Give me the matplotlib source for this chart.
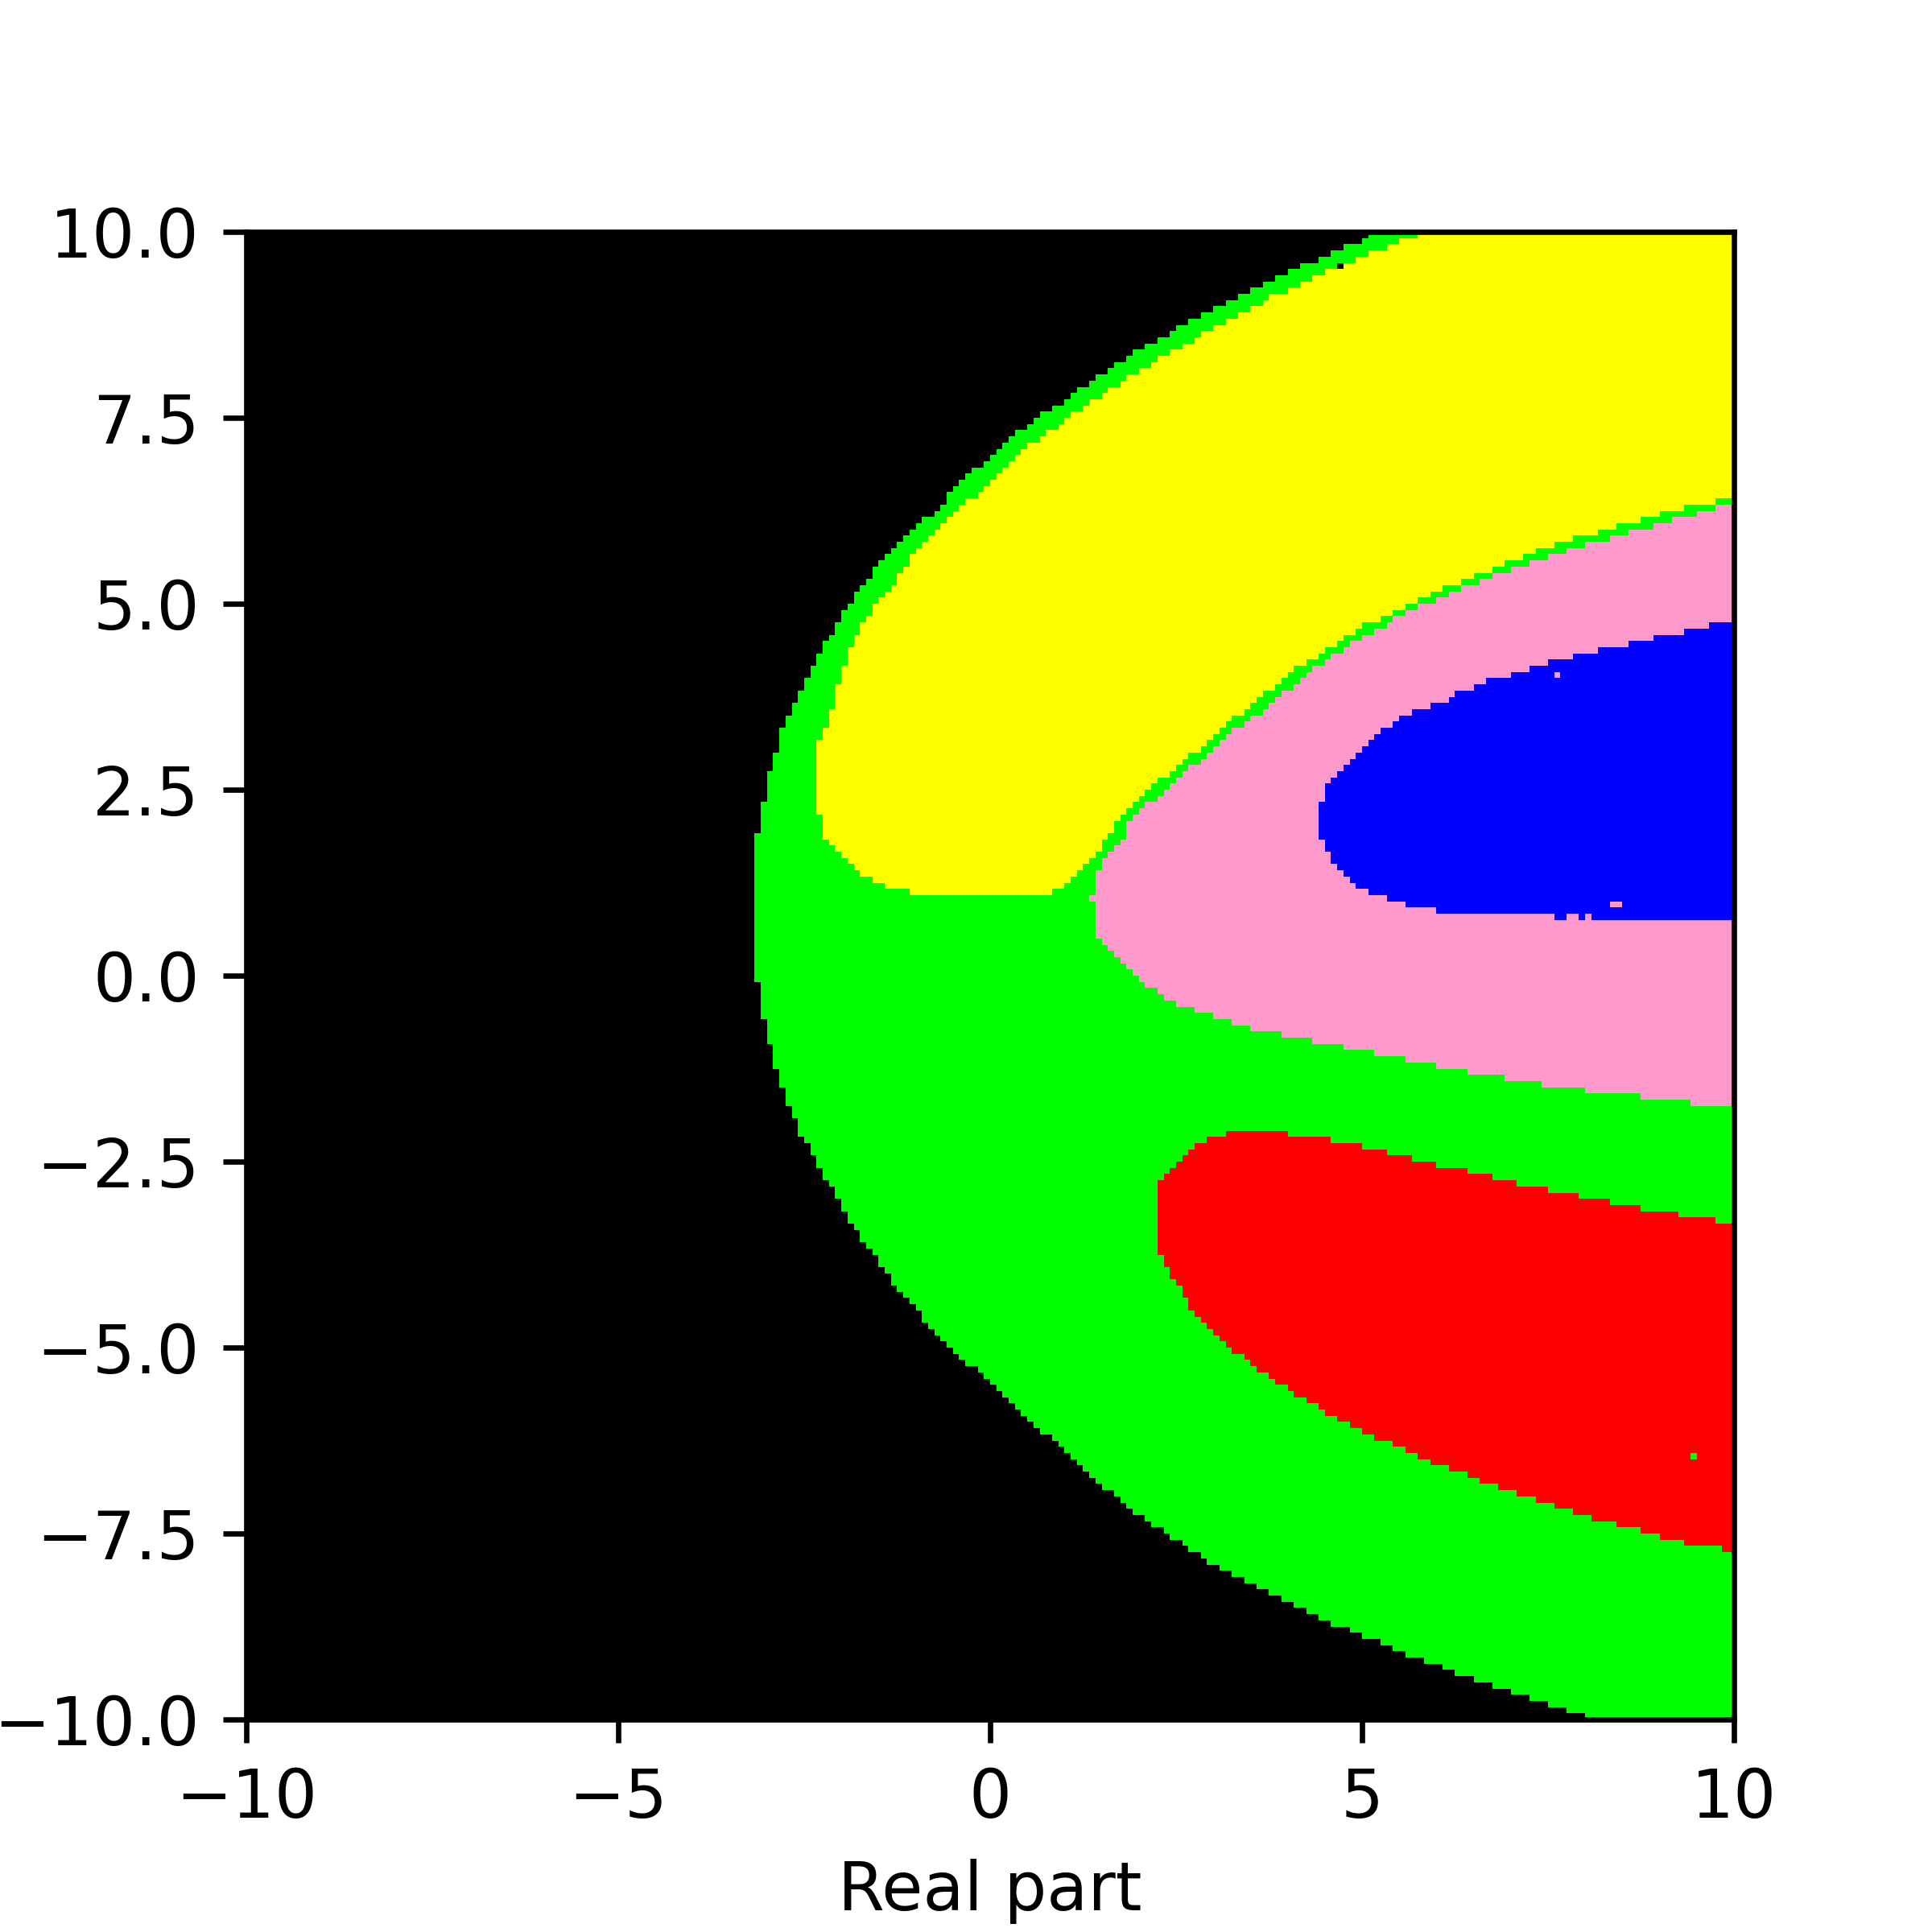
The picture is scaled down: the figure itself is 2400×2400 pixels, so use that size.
import numpy as np
import matplotlib
matplotlib.use("Agg")

import matplotlib.pyplot as plt
from matplotlib.colors import ListedColormap
from matplotlib.path import Path

# ------------------------------------------------------------
# DATA
# ------------------------------------------------------------
n_cells = 240
plane_extent = (-10, 10, -10, 10)

class_colors = ["#000000", "#00ff00", "#ffff00", "#ff99cc", "#0000ff", "#ff0000"]

x_ticks = [-10, -5, 0, 5, 10]
y_ticks = [-10, -7.5, -5, -2.5, 0, 2.5, 5, 7.5, 10]

# outline of the green area (everything left of it stays black)
green_edge = [(5.18, 10.5), (5.18, 10.0), (5.01, 9.89), (4.59, 9.73), (4.26, 9.56),
              (4.02, 9.48), (3.84, 9.39), (3.51, 9.23), (3.18, 9.06), (2.85, 8.89),
              (2.26, 8.56), (1.84, 8.31), (1.44, 8.06), (1.01, 7.73), (0.60, 7.48),
              (0.27, 7.23), (-0.07, 6.89), (-0.41, 6.65), (-0.73, 6.23), (-0.98, 6.07),
              (-1.23, 5.82), (-1.40, 5.65), (-1.65, 5.32), (-1.90, 4.99), (-2.14, 4.57),
              (-2.32, 4.32), (-2.48, 3.99), (-2.64, 3.65), (-2.82, 3.24), (-2.90, 2.90),
              (-2.98, 2.65), (-3.06, 2.23), (-3.15, 1.74), (-3.15, 0.08), (-3.06, -0.50),
              (-2.98, -0.84), (-2.90, -1.17), (-2.82, -1.42), (-2.73, -1.67), (-2.57, -2.09),
              (-2.48, -2.25), (-2.39, -2.42), (-2.32, -2.58), (-2.14, -2.83), (-1.98, -3.17),
              (-1.81, -3.42), (-1.56, -3.75), (-1.40, -4.00), (-1.06, -4.41), (-0.57, -4.99),
              (-0.24, -5.25), (0.02, -5.50), (0.27, -5.75), (0.51, -6.00), (0.76, -6.16),
              (0.93, -6.31), (1.85, -7.16), (2.26, -7.41), (2.60, -7.66), (3.01, -7.91),
              (3.51, -8.16), (4.01, -8.41), (4.51, -8.66), (5.10, -8.91), (5.68, -9.15),
              (6.34, -9.40), (7.09, -9.65), (7.84, -9.90), (8.18, -10.0), (8.18, -10.5),
              (10.5, -10.5), (10.5, 10.5)]

yellow_edge = [(5.76, 10.5), (5.76, 9.95), (5.59, 9.90), (5.35, 9.82), (5.17, 9.73),
               (4.92, 9.64), (4.59, 9.48), (4.17, 9.31), (3.84, 9.15), (3.51, 8.98),
               (3.18, 8.81), (2.92, 8.65), (2.59, 8.48), (2.19, 8.23), (1.77, 7.98),
               (1.51, 7.81), (1.26, 7.64), (0.93, 7.40), (0.68, 7.24), (0.35, 6.98),
               (0.10, 6.73), (-0.15, 6.48), (-0.41, 6.31), (-0.57, 6.15), (-0.90, 5.82),
               (-1.15, 5.49), (-1.32, 5.24), (-1.49, 5.07), (-1.65, 4.83), (-1.81, 4.57),
               (-1.90, 4.32), (-2.07, 3.82), (-2.23, 3.24), (-2.32, 3.10), (-2.32, 2.23),
               (-2.23, 1.90), (-2.14, 1.74), (-1.98, 1.58), (-1.81, 1.41), (-1.65, 1.33),
               (-1.49, 1.24), (-1.23, 1.16), (-0.81, 1.08), (0.76, 1.08), (1.02, 1.24),
               (1.18, 1.33), (1.26, 1.50), (1.44, 1.66), (1.60, 1.91), (1.77, 2.12),
               (1.93, 2.34), (2.09, 2.50), (2.35, 2.67), (2.52, 2.83), (2.76, 3.00),
               (2.92, 3.16), (3.09, 3.33), (3.34, 3.50), (3.51, 3.66), (3.76, 3.83),
               (3.93, 3.99), (4.17, 4.16), (4.42, 4.32), (4.68, 4.49), (4.92, 4.65),
               (5.17, 4.77), (5.51, 4.94), (5.84, 5.10), (6.25, 5.27), (6.67, 5.43),
               (7.08, 5.60), (7.34, 5.71), (7.59, 5.79), (7.84, 5.875), (8.17, 5.96),
               (8.42, 6.04), (8.74, 6.125), (9.00, 6.21), (9.33, 6.29), (9.75, 6.375),
               (10.5, 6.42), (10.5, 10.5)]

pink_edge = [(10.5, 6.34), (9.83, 6.31), (9.50, 6.21), (9.18, 6.125), (8.92, 6.04),
             (8.58, 5.96), (8.33, 5.875), (8.00, 5.79), (7.75, 5.71), (7.25, 5.54),
             (7.00, 5.46), (6.75, 5.37), (6.33, 5.21), (6.00, 5.04), (5.76, 4.96),
             (5.42, 4.80), (5.17, 4.62), (4.84, 4.45), (4.59, 4.29), (4.34, 4.12),
             (4.18, 3.96), (3.93, 3.79), (3.75, 3.62), (3.51, 3.46), (3.26, 3.29),
             (3.10, 3.13), (2.93, 2.97), (2.68, 2.78), (2.43, 2.54), (2.27, 2.37),
             (2.09, 2.29), (1.93, 2.12), (1.85, 2.04), (1.85, 1.90),
             (1.68, 1.74), (1.52, 1.58), (1.44, 1.41), (1.44, 1.08), (1.35, 1.08),
             (1.35, 0.99), (1.44, 0.99), (1.44, 0.58), (1.52, 0.41), (1.68, 0.25),
             (1.85, 0.08), (2.01, -0.09), (2.19, -0.17), (2.43, -0.33), (2.60, -0.42),
             (2.85, -0.50), (3.09, -0.58), (3.34, -0.67), (3.67, -0.75), (4.09, -0.83),
             (4.51, -0.91), (4.92, -1.00), (5.34, -1.08), (5.76, -1.17), (6.25, -1.26),
             (6.67, -1.34), (7.17, -1.42), (7.75, -1.51), (8.42, -1.59), (9.08, -1.67),
             (9.76, -1.75), (10.5, -1.75)]

blue_edge = [(10.5, 4.74), (9.83, 4.74), (9.42, 4.65), (9.01, 4.57), (8.67, 4.48),
             (8.25, 4.40), (7.92, 4.32), (7.59, 4.24), (7.34, 4.15), (7.08, 4.07),
             (6.76, 3.99), (6.59, 3.91), (6.34, 3.82), (6.18, 3.73), (6.00, 3.65),
             (5.76, 3.57), (5.59, 3.49), (5.42, 3.40), (5.35, 3.32), (5.17, 3.24),
             (5.09, 3.16), (5.01, 3.07), (4.92, 2.99), (4.84, 2.91), (4.76, 2.82),
             (4.67, 2.74), (4.59, 2.66), (4.51, 2.49), (4.42, 2.25), (4.42, 1.91),
             (4.51, 1.66), (4.59, 1.58), (4.68, 1.42), (4.75, 1.33), (4.91, 1.24),
             (5.00, 1.17), (5.16, 1.08), (5.50, 0.99), (5.75, 0.92), (6.25, 0.83),
             (7.59, 0.83), (7.59, 0.75), (10.5, 0.75)]

red_edge = [(2.26, -2.84), (2.35, -2.67), (2.43, -2.59), (2.52, -2.50), (2.60, -2.42),
            (2.67, -2.34), (2.76, -2.25), (3.01, -2.17), (3.26, -2.09), (4.09, -2.13),
            (4.59, -2.21), (5.01, -2.30), (5.34, -2.38), (5.68, -2.46), (6.00, -2.55),
            (6.42, -2.63), (6.76, -2.71), (7.09, -2.80), (7.50, -2.88), (7.92, -2.96),
            (8.34, -3.05), (8.74, -3.13), (9.26, -3.21), (9.76, -3.29), (10.5, -3.33),
            (10.5, -7.74), (9.67, -7.70), (9.33, -7.62), (9.01, -7.54), (8.68, -7.45),
            (8.42, -7.37), (8.09, -7.29), (7.84, -7.20), (7.59, -7.12), (7.34, -7.04),
            (7.09, -6.95), (6.84, -6.87), (6.58, -6.79), (6.42, -6.71), (6.18, -6.62),
            (5.93, -6.54), (5.76, -6.45), (5.59, -6.37), (5.35, -6.28), (5.18, -6.20),
            (5.01, -6.12), (4.85, -6.03), (4.68, -5.95), (4.51, -5.87), (4.43, -5.79),
            (4.27, -5.70), (4.10, -5.62), (4.01, -5.54), (3.84, -5.45), (3.76, -5.37),
            (3.60, -5.29), (3.51, -5.20), (3.43, -5.12), (3.26, -5.04), (3.18, -4.95),
            (3.10, -4.87), (3.01, -4.79), (2.92, -4.70), (2.85, -4.62), (2.76, -4.54),
            (2.67, -4.42), (2.60, -4.29), (2.52, -4.17), (2.43, -4.00), (2.35, -3.83),
            (2.26, -3.75)]

# single stray cells
speck_x = [4.71, 7.63, 9.46, 7.79, 7.87, 8.04, 8.37, 8.45]
speck_y = [9.54, 4.04, -6.45, 0.79, 0.79, 0.79, 0.96, 0.96]
speck_class = [0, 3, 1, 3, 3, 3, 3, 3]

# ------------------------------------------------------------
# BUILD THE CLASS GRID
# ------------------------------------------------------------
edges = np.linspace(-10, 10, n_cells + 1)
centers = (edges[:-1] + edges[1:]) / 2
xx, yy = np.meshgrid(centers, centers)
points = np.column_stack([xx.ravel(), yy.ravel()])

labels = np.zeros(xx.shape, dtype=int)
for code, outline in [(1, green_edge), (2, yellow_edge), (3, pink_edge),
                      (4, blue_edge), (5, red_edge)]:
    inside = Path(np.array(outline)).contains_points(points).reshape(xx.shape)
    labels[inside] = code

for sx, sy, sc in zip(speck_x, speck_y, speck_class):
    col = int(np.floor((sx + 10) / 20 * n_cells))
    row = int(np.floor((sy + 10) / 20 * n_cells))
    labels[row, col] = sc

# ------------------------------------------------------------
# PLOT
# ------------------------------------------------------------
fig, ax = plt.subplots(figsize=(4, 4))
ax.imshow(labels, origin="lower", extent=plane_extent,
          cmap=ListedColormap(class_colors), vmin=-0.5, vmax=5.5,
          interpolation="nearest")
ax.set_xticks(x_ticks)
ax.set_yticks(y_ticks)
ax.set_xlabel("Real part")

fig.savefig("out.png", dpi=600)
